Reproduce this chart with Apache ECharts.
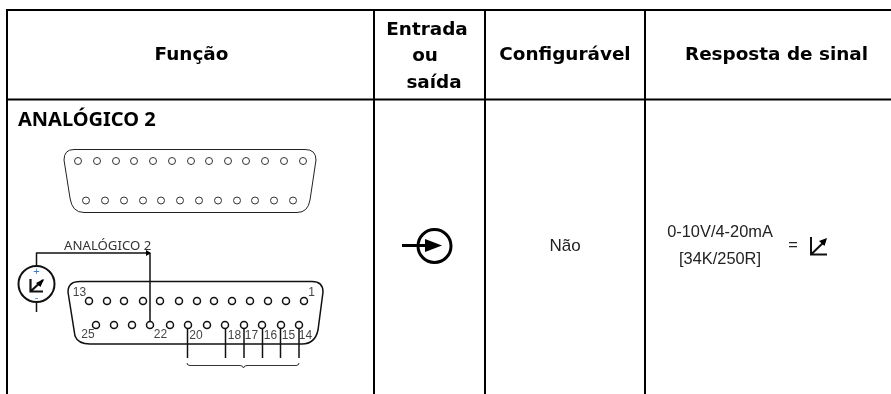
<!DOCTYPE html>
<html>
<head>
<meta charset="utf-8">
<style>html,body{margin:0;padding:0;background:#fff}#chart{width:891px;height:394px}</style>
<script src="https://cdn.jsdelivr.net/npm/echarts@6/dist/echarts.min.js"></script>
</head>
<body>
<div id="chart"></div>
<script>
// table text
const headers = [
  ['Função', 191.5, 55.5],
  ['Entrada', 427, 30], ['ou', 425, 56.5], ['saída', 434, 83],
  ['Configurável', 565, 55.5],
  ['Resposta de sinal', 776.5, 55.5]
]
const cellTexts = [
  ['Não', 565, 246]
]
const signalTexts = [
  ['0-10V/4-20mA', 720, 232],
  ['[34K/250R]', 720, 259],
  ['=', 793, 245]
]
const rowTitle = ['ANALÓGICO 2', 18, 120.5]
const wireLabel = ['ANALÓGICO 2', 64, 246]

// pin positions
const plainTopX = [78, 97, 116, 134, 153, 172, 191, 209, 228, 246, 265, 284, 303]
const plainBottomX = [86, 105, 124, 143, 161, 180, 199, 218, 237, 255, 274, 293]
const wiredTopX = [89, 107, 124, 143, 160, 179, 197, 214, 232, 250, 268, 286, 304]
const wiredBottomX = [96, 114, 132, 150, 170, 188, 207, 225, 244, 262, 281, 299]
const pinLabels = [
  ['13', 79.5, 293], ['1', 311.5, 293], ['25', 88, 335], ['22', 160.5, 335], ['20', 196, 335.5],
  ['18', 234.5, 335.5], ['17', 251.5, 335.5], ['16', 270.5, 335.5], ['15', 288.5, 335.5], ['14', 305.5, 335.5]
]

// line work: x1, y1, x2, y2
const tableRules = [
  [6, 10, 891, 10], [7, 99.5, 891, 99.5],
  [7, 9, 7, 394], [374, 10, 374, 394], [485, 10, 485, 394], [645, 10, 645, 394]
]
const wires = [
  [36.5, 266, 36.5, 253], [36, 253, 150, 253], [150, 253, 150, 322],
  [36.5, 302, 36.5, 312],
  [187.5, 329, 187.5, 358], [225.5, 329, 225.5, 358], [244, 329, 244, 358],
  [262.5, 329, 262.5, 358], [280.5, 329, 280.5, 358], [299, 329, 299, 358]
]
const shapes = [
  { d: 'M74 149.5 L305 149.5 Q316 149.5 316 160 L310 200 Q308 212.5 297 212.5 L84 212.5 Q72 212.5 70 198 L64 160 Q64 149.5 74 149.5 Z', w: 1, c: '#222' },
  { d: 'M80 281.5 L312 281.5 Q323 281.5 323 292 L318 330 Q315 344 302 344 L90 344 Q78 344 75 336 L68 292 Q68 281.5 80 281.5 Z', w: 1.5, c: '#111' },
  { d: 'M187 363 Q187 365.5 190 365.5 L240 365.5 Q243 365.5 243.5 368 Q244 365.5 247 365.5 L296 365.5 Q299 365.5 299 363', w: 1, c: '#333' },
  { d: 'M54.5 284 A18 18 0 1 1 18.5 284 A18 18 0 1 1 54.5 284 Z', w: 2, c: '#111' },
  { d: 'M30.5 279 L30.5 291.5 L43 291.5 M31 291 L43 280', w: 2.2, c: '#111' },
  { d: 'M451 246 A16.5 16.5 0 1 1 418 246 A16.5 16.5 0 1 1 451 246 Z', w: 3, c: '#000' },
  { d: 'M402 245.5 L428 245.5', w: 3, c: '#000' },
  { d: 'M811 237 L811 254.5 L827 254.5 M811.5 254 L825 241', w: 2, c: '#111' }
]
const filledShapes = [
  'M425 239 L442 245.5 L425 252 Z',
  'M146 250 L151 253 L146 256 Z',
  'M36 283 L44 279 L40.5 287 Z',
  'M819 241 L827 238 L824.5 246 Z'
]

const chart = echarts.init(document.getElementById('chart'), null, { renderer: 'canvas' })

function segments(color, width) {
  return {
    type: 'custom',
    silent: true,
    coordinateSystem: 'cartesian2d',
    renderItem: (params, api) => {
      const a = api.coord([api.value(0), api.value(1)])
      const b = api.coord([api.value(2), api.value(3)])
      return {
        type: 'line',
        shape: { x1: a[0], y1: a[1], x2: b[0], y2: b[1] },
        style: { stroke: color, lineWidth: width, fill: null }
      }
    }
  }
}

function pins(xs, y, size, border, color) {
  return {
    type: 'scatter',
    silent: true,
    symbol: 'circle',
    symbolSize: size,
    itemStyle: { color: '#fff', borderColor: color, borderWidth: border, opacity: 1 },
    z: 5,
    data: xs.map(x => [x, y])
  }
}

function texts(rows, style) {
  return rows.map(([t, x, y]) => ({
    type: 'text',
    x, y, z: 10,
    style: Object.assign({ text: t, fill: '#000', verticalAlign: 'middle' }, style)
  }))
}

chart.setOption({
  backgroundColor: '#fff',
  animation: false,
  grid: { left: 0, right: 0, top: 0, bottom: 0 },
  xAxis: { type: 'value', min: 0, max: 891, show: false },
  yAxis: { type: 'value', min: 0, max: 394, inverse: true, show: false },
  series: [
    Object.assign(segments('#000', 2), { data: tableRules }),
    Object.assign(segments('#111', 1.5), { data: wires }),
    {
      type: 'custom',
      silent: true,
      coordinateSystem: 'cartesian2d',
      data: shapes.map((s, i) => [i, 0]),
      renderItem: (params) => {
        const s = shapes[params.dataIndex]
        return { type: 'path', shape: { pathData: s.d }, style: { fill: null, stroke: s.c, lineWidth: s.w } }
      }
    },
    {
      type: 'custom',
      silent: true,
      coordinateSystem: 'cartesian2d',
      data: filledShapes.map((s, i) => [i, 0]),
      renderItem: (params) => ({
        type: 'path',
        shape: { pathData: filledShapes[params.dataIndex] },
        style: { fill: '#000', stroke: null }
      })
    },
    pins(plainTopX, 161, 7, 1, '#333'),
    pins(plainBottomX, 200.5, 7, 1, '#333'),
    pins(wiredTopX, 301, 7, 1.5, '#111'),
    pins(wiredBottomX, 325, 7, 1.5, '#111')
  ],
  graphic: [
    ...texts(headers, { font: 'bold 18.4px "DejaVu Sans"', align: 'center' }),
    ...texts([rowTitle], { font: 'bold 20px "Noto Sans"', align: 'left' }),
    ...texts(cellTexts, { font: '17px "Liberation Sans"', fill: '#222', align: 'center' }),
    ...texts(signalTexts, { font: '16.4px "Liberation Sans"', fill: '#222', align: 'center' }),
    ...texts([wireLabel], { font: '13.2px "Noto Sans"', fill: '#333', align: 'left' }),
    ...texts(pinLabels, { font: '12px "Liberation Sans"', fill: '#444', align: 'center' }),
    ...texts([['+', 36.5, 272]], { font: '11px "Liberation Sans"', fill: '#3a7bd5', align: 'center' }),
    ...texts([['-', 36.5, 297.5]], { font: '11px "Liberation Sans"', fill: '#3a7bd5', align: 'center' })
  ]
})
</script>
</body>
</html>
